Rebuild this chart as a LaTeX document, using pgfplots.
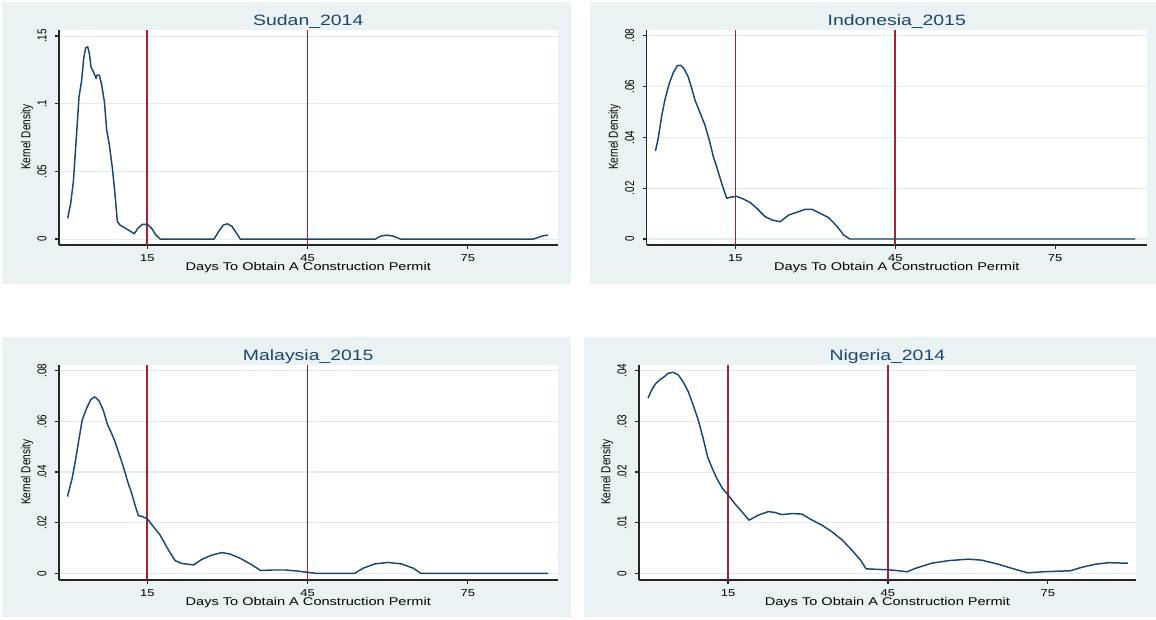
\documentclass[border=0pt]{standalone}
\usepackage{fontspec}
\setmainfont{Liberation Sans}[FakeStretch=1.3]
\newfontfamily\rotfont{Liberation Sans}[FakeStretch=0.77]
\usepackage{pgfplots}
\pgfplotsset{compat=1.18}

\definecolor{panelbg}{RGB}{234,242,243}
\definecolor{gridc}{RGB}{226,236,238}
\definecolor{stataNavy}{RGB}{26,71,111}
\definecolor{stataMaroon}{RGB}{165,35,48}

\pgfplotstableread{
x y
0.08 0.0153
0.64 0.0264
1.14 0.0424
1.77 0.0793
2.2 0.105
2.7 0.1175
3.08 0.1335
3.45 0.1414
3.83 0.142
4.14 0.137
4.45 0.127
4.89 0.1236
5.39 0.1187
5.57 0.1212
6.0 0.1212
6.45 0.1138
6.95 0.1015
7.38 0.0805
7.88 0.0695
8.45 0.0522
8.95 0.0325
9.38 0.0128
9.88 0.0103
11.13 0.0074
12.57 0.0039
13.19 0.0079
14.06 0.0108
15.0 0.0108
15.8 0.0079
16.6 0.003
17.4 0
27.5 0
28.3 0.0054
29.2 0.0103
30.0 0.0113
30.9 0.0091
31.7 0.0042
32.4 0
57.7 0
58.7 0.0022
59.8 0.0029
61.0 0.0022
62.4 0
87.3 0
88.2 0.0012
89.1 0.0024
90.0 0.0029
}\sudan

\pgfplotstableread{
x y
0.0 0.0346
0.51 0.0396
1.14 0.0481
1.76 0.0547
2.58 0.0612
3.33 0.0654
4.08 0.0682
4.71 0.0684
5.34 0.0671
6.15 0.0638
6.9 0.0586
7.41 0.0547
8.35 0.0498
9.29 0.0448
10.1 0.0389
10.86 0.0324
11.49 0.0284
12.43 0.0219
13.37 0.016
14.12 0.0165
15.25 0.0168
16.5 0.0157
17.76 0.0144
19.0 0.0121
20.58 0.0088
21.84 0.0075
23.4 0.0068
24.97 0.0094
26.5 0.0105
28.1 0.0117
29.37 0.0117
30.9 0.0101
32.5 0.0084
34.1 0.0049
35.3 0.0016
36.46 0
90.0 0
}\indonesia

\pgfplotstableread{
x y
0.03 0.0303
0.91 0.0375
1.54 0.0447
2.16 0.0526
2.79 0.0605
3.6 0.0651
4.42 0.0687
5.17 0.0697
5.92 0.0682
6.73 0.0645
7.55 0.0586
8.17 0.0559
8.93 0.052
9.87 0.0461
10.5 0.0421
11.31 0.0362
12.06 0.0316
12.68 0.027
13.31 0.0228
14.06 0.0224
15.0 0.0215
16.13 0.0184
17.38 0.0151
18.94 0.0092
20.2 0.005
21.45 0.0039
23.64 0.0033
25.2 0.0055
27.1 0.0072
28.96 0.0082
30.5 0.0076
32.4 0.0059
34.6 0.0033
36.2 0.0011
38.4 0.0013
40.86 0.0013
43.05 0.0009
45.0 0.0004
46.5 0
53.8 0
55.4 0.002
57.56 0.0037
60.07 0.0043
62.6 0.0037
64.8 0.002
66.2 0
90.0 0
}\malaysia

\pgfplotstableread{
x y
0.0 0.0346
0.62 0.0361
1.38 0.0374
2.19 0.0382
3.01 0.0388
3.76 0.0395
4.7 0.0397
5.65 0.0392
6.59 0.0378
7.53 0.0359
8.47 0.0332
9.41 0.0303
10.35 0.0266
11.17 0.023
12.05 0.0207
12.87 0.0188
13.93 0.0168
15.0 0.0155
16.32 0.0137
17.57 0.0122
18.95 0.0105
20.71 0.0115
22.6 0.0122
23.85 0.012
25.1 0.0116
27.0 0.0118
28.87 0.0117
30.44 0.0107
32.64 0.0095
34.5 0.0082
36.4 0.0066
38.3 0.0045
39.86 0.0026
40.9 0.0009
42.7 0.0008
45.0 0.0007
47.1 0.0005
48.6 0.0003
50.2 0.0010
53.2 0.002
56.3 0.0025
60.07 0.0028
62.6 0.0026
65.7 0.0018
68.85 0.0008
71.2 0.0001
73.9 0.0003
76.4 0.0004
79.2 0.0005
81.4 0.0012
83.9 0.0018
86.4 0.0021
90.0 0.002
}\nigeria

\pgfplotsset{
  statapanel/.style={
    scale only axis,
    height=161.5pt,
    axis x line*=bottom, axis y line*=left,
    axis line style={line width=0.9pt, black!85},
    tick align=outside,
    major tick length=3pt,
    every tick/.style={line width=0.9pt, black!85},
    axis background/.style={fill=white},
    ymajorgrids,
    grid style={gridc, line width=0.8pt},
    scaled y ticks=false, scaled x ticks=false,
    xtick={15,45,75}, xticklabels={15,45,75},
    xticklabel style={font=\fontsize{7.5}{9}\selectfont, anchor=base, inner sep=0pt},
    xticklabel shift=9.5pt,
    yticklabel style={font=\rotfont\fontsize{9.6}{11}\selectfont, rotate=90, anchor=base, inner sep=0pt},
    yticklabel shift=6.5pt,
    every axis title/.style={font=\fontsize{11.2}{13}\selectfont, text=stataNavy, at={(axis description cs:0.5,1.0217)}, anchor=base},
    xlabel={Days To Obtain A Construction Permit},
    every axis x label/.style={font=\fontsize{8.4}{10}\selectfont, at={(axis description cs:0.5,-0.1195)}, anchor=base},
    ylabel={Kernel Density},
    every axis y label/.style={font=\rotfont\fontsize{9.75}{11}\selectfont, at={(axis description cs:-0.0575,0.5)}, rotate=90, anchor=base},
  }
}

\begin{document}
\begin{tikzpicture}
\path[use as bounding box] (0pt,0pt) rectangle (867pt,-464.25pt);
\fill[panelbg] (1.5pt,-1.5pt) rectangle (428.25pt,-213pt);
\fill[panelbg] (442.5pt,-1.5pt) rectangle (867pt,-213pt);
\fill[panelbg] (1.5pt,-252.75pt) rectangle (428.25pt,-462.75pt);
\fill[panelbg] (438pt,-252.75pt) rectangle (867pt,-462.75pt);

% Sudan
\begin{axis}[statapanel, at={(44.25pt,-183.75pt)}, anchor=south west, width=373.9pt,
  xmin=-1.55, xmax=91.8, ymin=-0.0044, ymax=0.1547,
  ytick={0,0.05,0.1,0.15}, yticklabels={0,.05,.1,.15},
  title={Sudan\_2014}]
\addplot[draw=stataMaroon, line width=1.35pt] coordinates {(15,-0.0044) (15,0.1547)};
\addplot[draw=stataMaroon, line width=1.35pt] coordinates {(45,-0.0044) (45,0.1547)};
\addplot[draw=stataNavy, line width=1.1pt, line join=round] table[x=x,y=y] {\sudan};
\end{axis}

% Indonesia
\begin{axis}[statapanel, at={(485pt,-183.75pt)}, anchor=south west, width=375.15pt,
  xmin=-1.65, xmax=92.2, ymin=-0.00236, ymax=0.0824,
  ytick={0,0.02,0.04,0.06,0.08}, yticklabels={0,.02,.04,.06,.08},
  title={Indonesia\_2015}]
\addplot[draw=stataMaroon, line width=1.35pt] coordinates {(15,-0.00236) (15,0.0824)};
\addplot[draw=stataMaroon, line width=1.35pt] coordinates {(45,-0.00236) (45,0.0824)};
\addplot[draw=stataNavy, line width=1.1pt, line join=round] table[x=x,y=y] {\indonesia};
\end{axis}

% Malaysia
\begin{axis}[statapanel, at={(44.25pt,-435pt)}, anchor=south west, width=373.9pt,
  xmin=-1.55, xmax=91.8, ymin=-0.00265, ymax=0.0824,
  ytick={0,0.02,0.04,0.06,0.08}, yticklabels={0,.02,.04,.06,.08},
  title={Malaysia\_2015}]
\addplot[draw=stataMaroon, line width=1.35pt] coordinates {(15,-0.00265) (15,0.0824)};
\addplot[draw=stataMaroon, line width=1.35pt] coordinates {(45,-0.00265) (45,0.0824)};
\addplot[draw=stataNavy, line width=1.1pt, line join=round] table[x=x,y=y] {\malaysia};
\end{axis}

% Nigeria
\begin{axis}[statapanel, at={(479.25pt,-435pt)}, anchor=south west, width=372.6pt,
  xmin=-1.7, xmax=91.5, ymin=-0.00132, ymax=0.0412,
  ytick={0,0.01,0.02,0.03,0.04}, yticklabels={0,.01,.02,.03,.04},
  title={Nigeria\_2014}]
\addplot[draw=stataMaroon, line width=1.35pt] coordinates {(15,-0.00132) (15,0.0412)};
\addplot[draw=stataMaroon, line width=1.35pt] coordinates {(45,-0.00132) (45,0.0412)};
\addplot[draw=stataNavy, line width=1.1pt, line join=round] table[x=x,y=y] {\nigeria};
\end{axis}
\end{tikzpicture}
\end{document}
